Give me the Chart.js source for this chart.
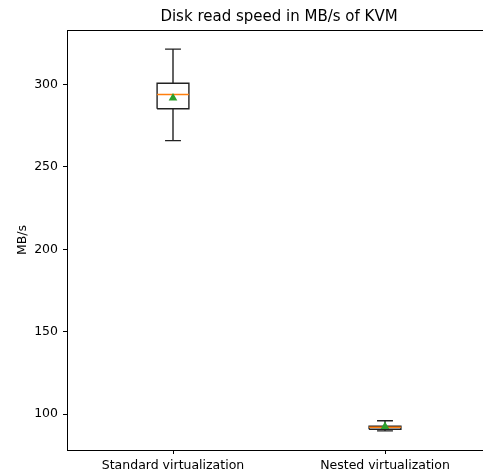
<!DOCTYPE html>
<html>
<head>
<meta charset="utf-8">
<script src="https://cdn.jsdelivr.net/npm/chart.js@4"></script>
<style>
  html, body { margin: 0; padding: 0; background: #fff; overflow: hidden; }
</style>
</head>
<body>
<canvas id="chart" width="496" height="474"></canvas>
<script>
// box plot summary per group (MB/s)
const categories = ['Standard virtualization', 'Nested virtualization'];
const whiskerLow = [266, 89.9];
const q1 = [285.3, 90.9];
const medians = [294, 92.1];
const q3 = [300.8, 92.7];
const whiskerHigh = [321.5, 96];
const means = [291.8, 92.5];
const yTicks = [100, 150, 200, 250, 300];
const yRange = [78.3, 333.1];

const boxWidth = 0.15;

// black outline: box + whiskers + caps, segments split with nulls
const outline = [];
const medianLines = [];
const meanPoints = [];
categories.forEach((c, i) => {
    const pos = i + 1;
    const l = pos - boxWidth / 2, r = pos + boxWidth / 2;
    const cl = pos - boxWidth / 4, cr = pos + boxWidth / 4;
    outline.push(
        {x: l, y: q1[i]}, {x: r, y: q1[i]}, {x: r, y: q3[i]}, {x: l, y: q3[i]}, {x: l, y: q1[i]}, {x: pos, y: null},
        {x: pos, y: q1[i]}, {x: pos, y: whiskerLow[i]}, {x: pos, y: null},
        {x: pos, y: q3[i]}, {x: pos, y: whiskerHigh[i]}, {x: pos, y: null},
        {x: cl, y: whiskerLow[i]}, {x: cr, y: whiskerLow[i]}, {x: pos, y: null},
        {x: cl, y: whiskerHigh[i]}, {x: cr, y: whiskerHigh[i]}, {x: pos, y: null}
    );
    medianLines.push({x: l, y: medians[i]}, {x: r, y: medians[i]}, {x: pos, y: null});
    meanPoints.push({x: pos, y: means[i]});
});

// frame around the plot area (top/right spines)
const framePlugin = {
    id: 'frame',
    afterDraw(chart) {
        const a = chart.chartArea, ctx = chart.ctx;
        ctx.save();
        ctx.strokeStyle = '#000';
        ctx.lineWidth = 1;
        ctx.strokeRect(Math.round(a.left) + 0.5, Math.round(a.top) + 0.5, Math.round(a.right - a.left), Math.round(a.bottom - a.top));
        ctx.restore();
    }
};

const font = {family: 'DejaVu Sans', size: 12.5};

new Chart(document.getElementById('chart'), {
    type: 'line',
    data: {
        datasets: [
            {
                data: outline, borderColor: '#222', borderWidth: 1.4,
                pointRadius: 0, spanGaps: false, tension: 0, order: 3
            },
            {
                data: medianLines, borderColor: '#ff7f0e', borderWidth: 1.4,
                pointRadius: 0, spanGaps: false, tension: 0, order: 2
            },
            {
                data: meanPoints, showLine: false, pointStyle: 'triangle',
                pointRadius: 5, backgroundColor: '#2ca02c', borderColor: '#2ca02c',
                borderWidth: 0, order: 1
            }
        ]
    },
    options: {
        responsive: false,
        devicePixelRatio: 1,
        animation: false,
        layout: {padding: 0},
        plugins: {
            legend: {display: false},
            tooltip: {enabled: false},
            title: {
                display: true,
                fullSize: false,
                text: 'Disk read speed in MB/s of KVM',
                color: '#000',
                font: {family: 'DejaVu Sans', size: 15, weight: 'normal'},
                padding: {top: 8, bottom: 4}
            }
        },
        scales: {
            x: {
                type: 'linear',
                min: 0.5,
                max: 2.5,
                afterBuildTicks: s => { s.ticks = categories.map((c, i) => ({value: i + 1})); },
                afterFit: s => { s.height = 24; },
                ticks: {
                    color: '#000', font: font, padding: 4, maxRotation: 0,
                    callback: v => categories[v - 1]
                },
                grid: {drawOnChartArea: false, drawTicks: true, tickLength: 4, color: '#000'},
                border: {display: true, color: '#000'}
            },
            y: {
                min: yRange[0],
                max: yRange[1],
                afterBuildTicks: s => { s.ticks = yTicks.map(v => ({value: v})); },
                afterFit: s => { s.width = 67; },
                ticks: {color: '#000', font: font, padding: 5},
                grid: {drawOnChartArea: false, drawTicks: true, tickLength: 4, color: '#000'},
                border: {display: true, color: '#000'},
                title: {display: true, text: 'MB/s', color: '#000', font: font, padding: {top: 15, bottom: 0}}
            }
        }
    },
    plugins: [framePlugin]
});
</script>
</body>
</html>
